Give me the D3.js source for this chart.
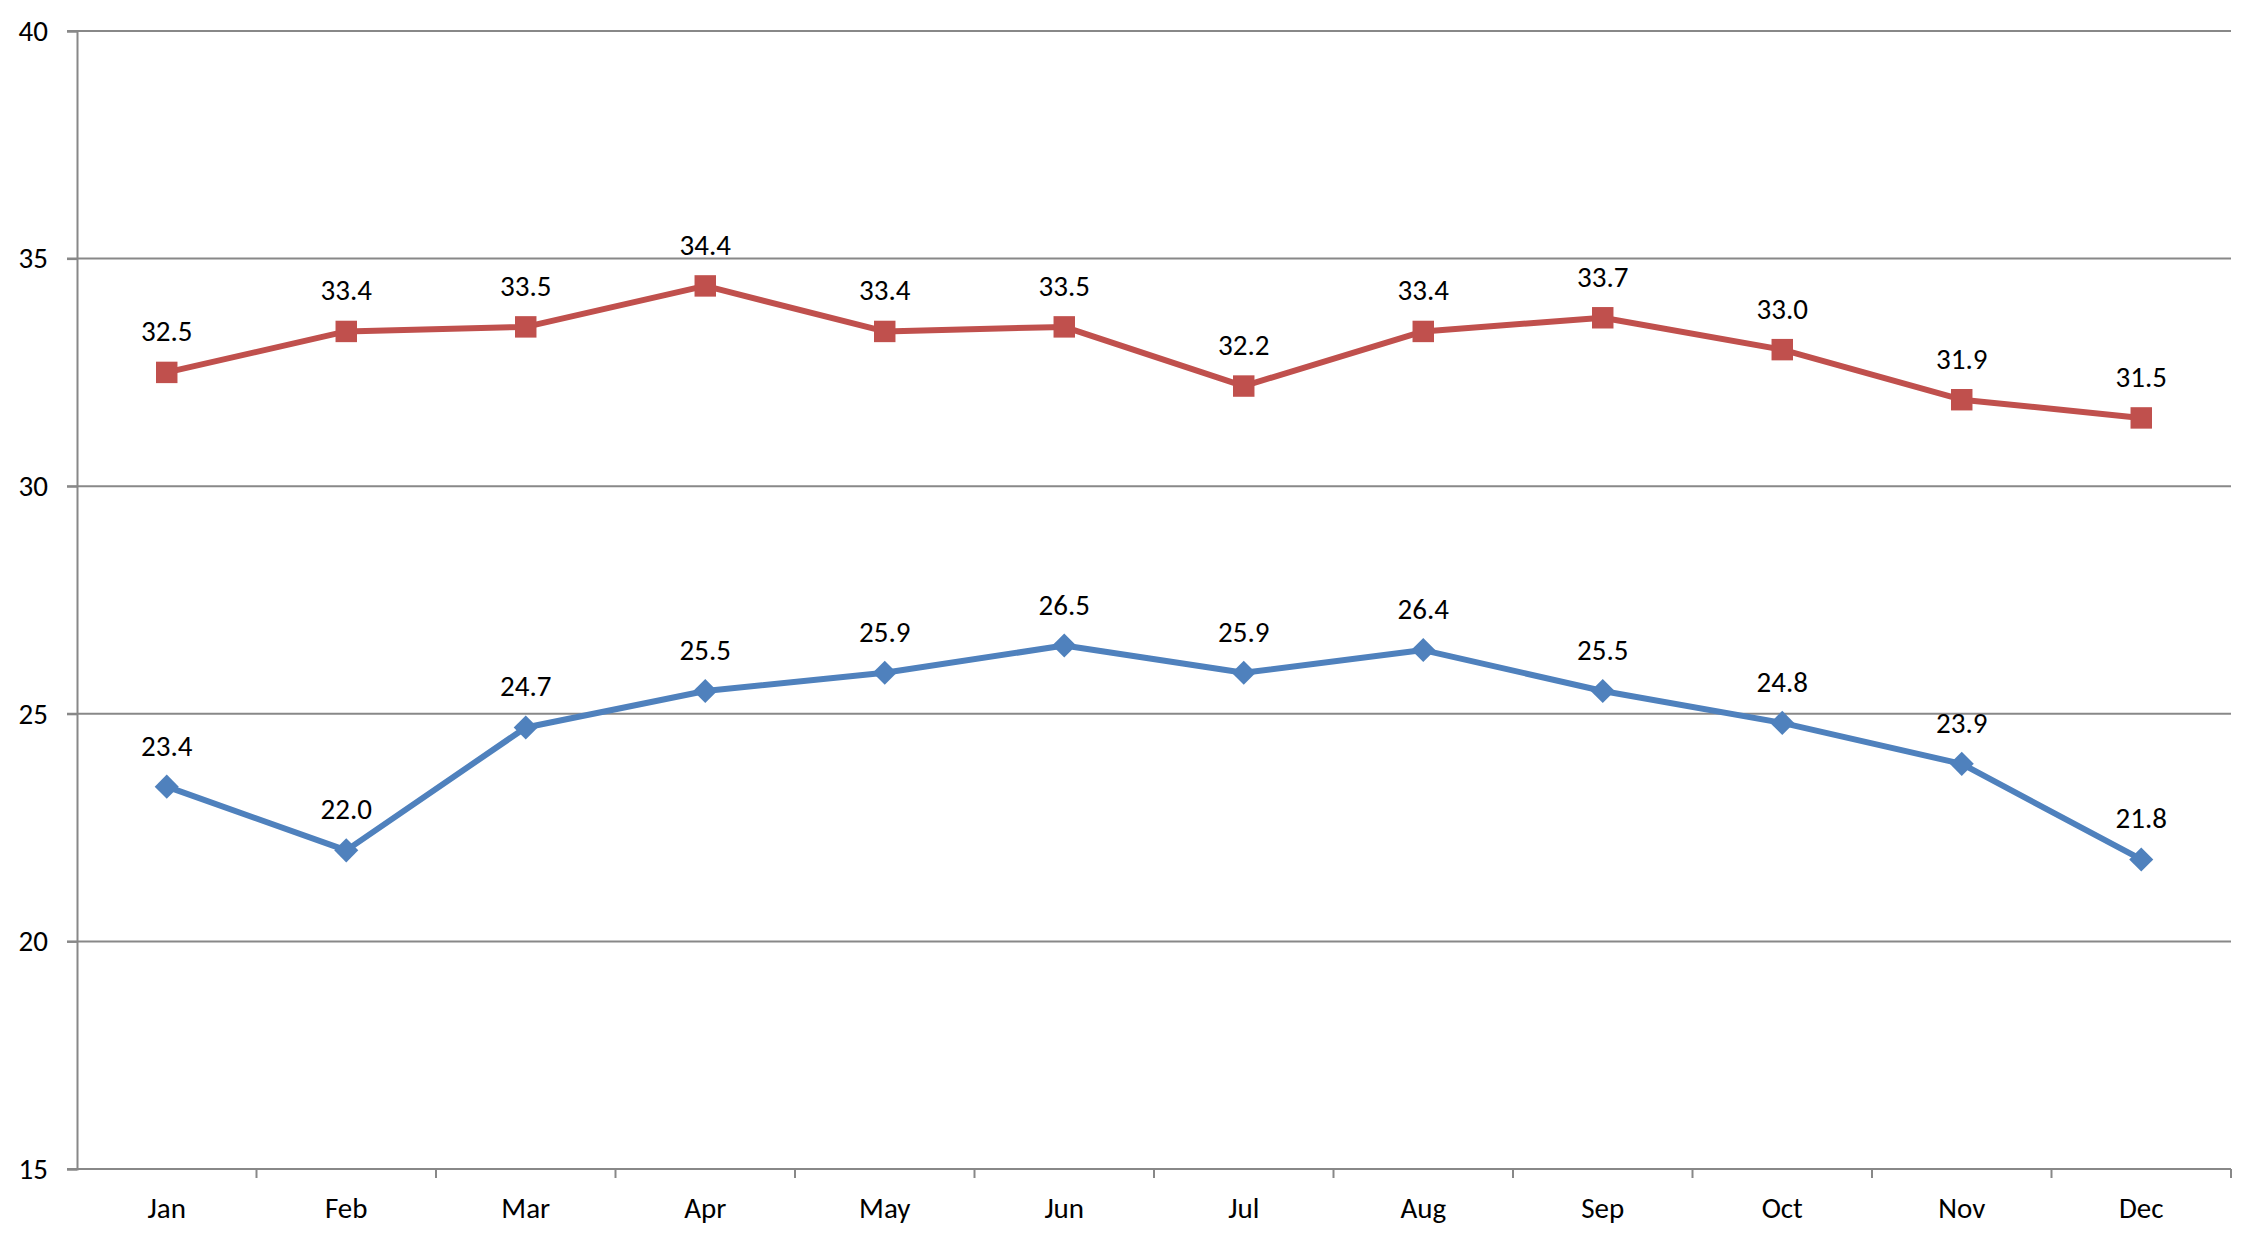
<!DOCTYPE html>
<html>
<head>
<meta charset="utf-8">
<script src="https://cdn.jsdelivr.net/npm/d3@7"></script>
<style>
  body { margin: 0; background: #fff; }
  text { font-family: Carlito, Calibri, "Noto Sans", sans-serif; fill: #000; }
</style>
</head>
<body>
<svg id="chart" width="2263" height="1241"></svg>
<script>
/* data */
var months = ["Jan", "Feb", "Mar", "Apr", "May", "Jun", "Jul", "Aug", "Sep", "Oct", "Nov", "Dec"];
var highTemps = [32.5, 33.4, 33.5, 34.4, 33.4, 33.5, 32.2, 33.4, 33.7, 33.0, 31.9, 31.5];
var lowTemps = [23.4, 22.0, 24.7, 25.5, 25.9, 26.5, 25.9, 26.4, 25.5, 24.8, 23.9, 21.8];
var yTicks = [15, 20, 25, 30, 35, 40];

var margin = {top: 31, right: 32, bottom: 72, left: 77},
    width = 2263 - margin.left - margin.right,
    height = 1241 - margin.top - margin.bottom;

var svg = d3.select("#chart"),
    g = svg.append("g").attr("transform", "translate(" + margin.left + "," + margin.top + ")");

var x = d3.scaleBand().domain(months).range([0, width]);
var y = d3.scaleLinear().domain([15, 40]).range([height, 0]);

// gridlines
g.selectAll("line.grid")
  .data(yTicks)
  .enter().append("line")
  .attr("class", "grid")
  .attr("x1", -10).attr("x2", width)
  .attr("y1", function(d) { return y(d); })
  .attr("y2", function(d) { return y(d); })
  .style("stroke", "#888")
  .style("stroke-width", 2);

// y axis
var yAxis = g.append("g")
  .call(d3.axisLeft(y).tickValues(yTicks).tickSize(10).tickPadding(19));
yAxis.select(".domain").style("stroke", "#888").style("stroke-width", 2);
yAxis.selectAll(".tick line").style("stroke", "#888").style("stroke-width", 2);
yAxis.selectAll("text").style("font-size", "29px").attr("fill", "#000");

// x axis, ticks at band edges
var xAxis = g.append("g").attr("transform", "translate(0," + height + ")");
xAxis.append("line")
  .attr("x1", 0).attr("x2", width)
  .style("stroke", "#888").style("stroke-width", 2);
xAxis.selectAll("line.edge")
  .data(months)
  .enter().append("line")
  .attr("class", "edge")
  .attr("x1", function(d) { return x(d) + x.bandwidth(); })
  .attr("x2", function(d) { return x(d) + x.bandwidth(); })
  .attr("y1", 0).attr("y2", 9)
  .style("stroke", "#888").style("stroke-width", 2);
xAxis.selectAll("text")
  .data(months)
  .enter().append("text")
  .attr("x", function(d) { return x(d) + x.bandwidth() / 2; })
  .attr("y", 49)
  .attr("text-anchor", "middle")
  .style("font-size", "29px")
  .text(function(d) { return d; });

function cx(i) { return x(months[i]) + x.bandwidth() / 2; }

var line = d3.line()
  .x(function(d, i) { return cx(i); })
  .y(function(d) { return y(d); });

function addSeries(values, color, rotate, size) {
  g.append("path")
    .datum(values)
    .attr("d", line)
    .style("fill", "none")
    .style("stroke", color)
    .style("stroke-width", 6)
    .style("stroke-linejoin", "round");

  g.selectAll(null)
    .data(values)
    .enter().append("path")
    .attr("d", d3.symbol().type(d3.symbolSquare).size(size))
    .attr("transform", function(d, i) {
      return "translate(" + cx(i) + "," + y(d) + ") rotate(" + rotate + ")";
    })
    .style("fill", color);

  g.selectAll(null)
    .data(values)
    .enter().append("text")
    .attr("x", function(d, i) { return cx(i); })
    .attr("y", function(d) { return y(d) - 31; })
    .attr("text-anchor", "middle")
    .style("font-size", "29px")
    .text(function(d) { return d.toFixed(1); });
}

addSeries(highTemps, "#C0504D", 0, 460);
addSeries(lowTemps, "#4F81BD", 45, 290);
</script>
</body>
</html>
